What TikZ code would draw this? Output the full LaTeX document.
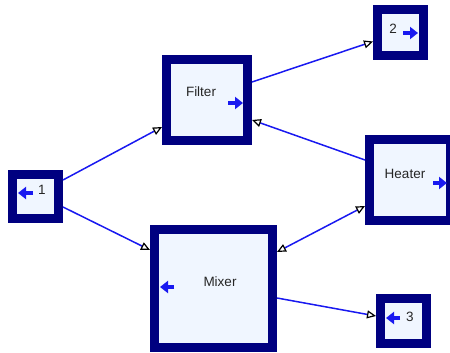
\documentclass[tikz,border=0pt]{standalone}
\usepackage{fontspec}
\setmainfont{Liberation Sans}
\usetikzlibrary{arrows.meta}
\definecolor{boxnavy}{RGB}{0,0,128}
\definecolor{boxfill}{RGB}{240,246,255}
\definecolor{wireblue}{RGB}{25,25,240}

\tikzset{
  block/.style={draw=boxnavy, line width=9pt, fill=boxfill, inner sep=0pt},
  wtip/.tip={Triangle[length=9pt,width=8pt,color=black,fill=white,line width=1.2pt]},
  wire/.style={draw=wireblue, line width=1.5pt},
  port/.style={draw=wireblue, line width=3.5pt, -{Triangle[length=8pt,width=12pt]}},
  lbl/.style={font=\fontsize{13.5}{16}\selectfont, text=black!85, inner sep=0pt}
}

\begin{document}
\begin{tikzpicture}[x=1pt,y=-1pt]
  \clip (0,0) rectangle (450,353);

  % units and ports
  \node[block,minimum width=46pt,minimum height=44pt] (n1) at (35.5,196.5) {};
  \node[block,minimum width=46pt,minimum height=46pt] (n2) at (400.5,32.5) {};
  \node[block,minimum width=46pt,minimum height=45pt] (n3) at (403.5,321) {};
  \node[block,minimum width=81pt,minimum height=81pt] (filter) at (207,100) {};
  \node[block,minimum width=81pt,minimum height=81pt] (heater) at (410,180) {};
  \node[block,minimum width=118pt,minimum height=118pt] (mixer) at (213.5,288.5) {};

  \node[lbl] (n1-lbl) at (42,190) {1};
  \node[lbl] (n2-lbl) at (393,29) {2};
  \node[lbl] (n3-lbl) at (410,317) {3};
  \node[lbl] (filter-lbl) at (201,92) {Filter};
  \node[lbl] (heater-lbl) at (405,174) {Heater};
  \node[lbl] (mixer-lbl) at (220,282) {Mixer};

  % in/out markers
  \draw[port] (33,193) -- (18,193);
  \draw[port] (228,103) -- (243,103);
  \draw[port] (174,287) -- (160,287);
  \draw[port] (433,183) -- (447,183);
  \draw[port] (403,33) -- (418,33);
  \draw[port] (400,318) -- (386,318);

  % streams
  \draw[wire,-wtip] ([yshift=16.5pt]n1.east) -- ([yshift=-27pt]filter.west);
  \draw[wire,-wtip] ([yshift=-10.5pt]n1.east) -- ([yshift=38.5pt]mixer.west);
  \draw[wire,-wtip] ([yshift=18pt]filter.east) -- ([yshift=-9pt]n2.west);
  \draw[wire,-wtip] ([yshift=20pt]heater.west) -- ([yshift=-20pt]filter.east);
  \draw[wire,wtip-wtip] ([yshift=36.5pt]mixer.east) -- ([yshift=-26pt]heater.west);
  \draw[wire,-wtip] ([yshift=-9.5pt]mixer.east) -- ([yshift=5pt]n3.west);
\end{tikzpicture}
\end{document}
